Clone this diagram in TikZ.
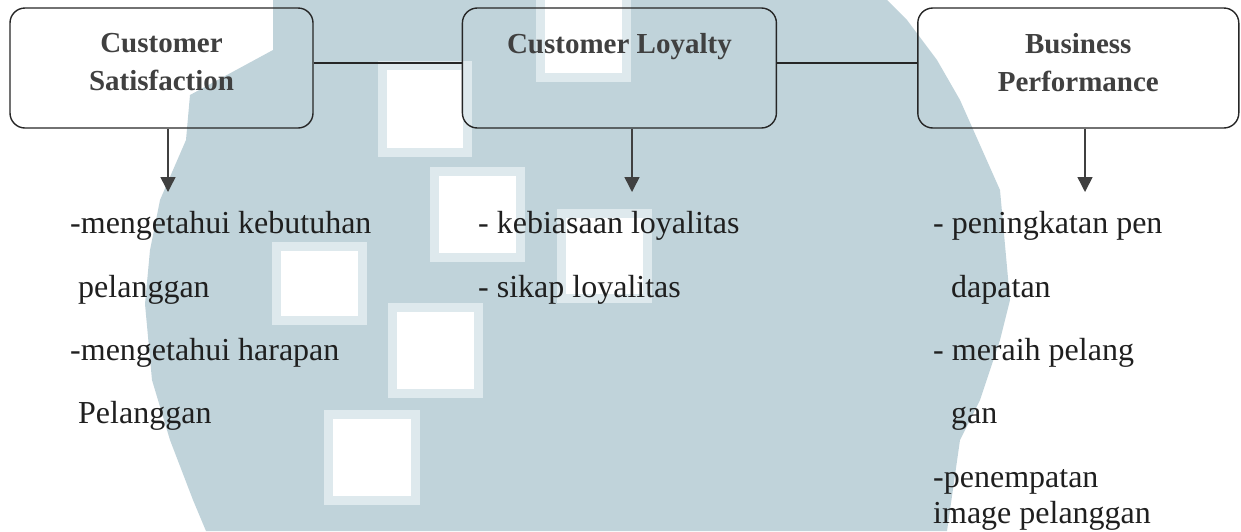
\documentclass[tikz,border=0pt]{standalone}
\usepackage{fontspec}
\setmainfont{Liberation Serif}
\usetikzlibrary{arrows.meta, positioning}
\definecolor{wmblue}{RGB}{192,211,218}
\definecolor{wmedge}{RGB}{222,233,237}
\tikzset{
  box/.style={draw=black!85, line width=1.4pt, rounded corners=15pt, minimum width=#1, minimum height=120pt, inner sep=0pt},
  title/.style={font=\bfseries\fontsize{29}{38}\selectfont, text=black!75, align=center, inner sep=0pt},
  item/.style={font=\fontsize{32}{38}\selectfont, text=black!88, anchor=base west, inner sep=0pt},
  arr/.style={-{Triangle[length=15pt, width=15pt]}, line width=1.5pt, draw=black!75},
  link/.style={draw=black!85, line width=1.4pt},
}

\begin{document}
\begin{tikzpicture}[x=1pt, y=-1pt]
    \useasboundingbox (0,0) rectangle (1241,531);
    % watermark
    \begin{scope}
      \clip (0,0) rectangle (1241,531);
      \fill[wmblue] (273,0) -- (887,0) -- (907,20) -- (937,60) -- (960,100) -- (1000,190) -- (1010,300)
        -- (1000,340) -- (980,400) -- (960,440) -- (947,531) -- (206,531) -- (193,500) -- (170,440)
        -- (152,380) -- (145,304) -- (150,250) -- (160,200) -- (186,140) -- (190,95) -- (273,50) -- cycle;
      \foreach \xa/\ya/\xb/\yb in {536/-10/631/82, 378/61/472/157, 430/167/525/262, 272/242/367/325,
          557/209/652/303, 388/303/483/398, 324/410/420/505} {
        \fill[wmedge] (\xa,\ya) rectangle (\xb,\yb);
        \fill[white] (\xa+9,\ya+9) rectangle (\xb-9,\yb-9);
      }
    \end{scope}
    % boxes
    \node[box=303pt] (cs) at (161.5,68) {};
    \node[box=314pt, right=148pt of cs] (cl) {};
    \node[box=321pt, right=140pt of cl] (bp) {};
    \node[title, below=26pt of cs.north] (cst) {Customer\\Satisfaction};
    \node[title, below=26pt of cl.north] (clt) {Customer Loyalty};
    \node[title, below=26pt of bp.north] (bpt) {Business\\Performance};
    \draw[link] ([yshift=5pt]cs.east) -- ([yshift=5pt]cl.west);
    \draw[link] ([yshift=5pt]cl.east) -- ([yshift=5pt]bp.west);
    % arrows
    \coordinate (csend) at (168,192);
    \coordinate (clend) at (632,192);
    \coordinate (bpend) at (1085,192);
    \foreach \b in {cs,cl,bp} \draw[arr] (\b.south -| \b end) -- (\b end);
    % items
    \node[item] (cs1) at (70,233) {-mengetahui kebutuhan};
    \node[item] (cs2) at (78,297) {pelanggan};
    \node[item] (cs3) at (70,360) {-mengetahui harapan};
    \node[item] (cs4) at (78,423) {Pelanggan};
    \node[item] (cl1) at (478,233) {- kebiasaan loyalitas};
    \node[item] (cl2) at (478,297) {- sikap loyalitas};
    \node[item] (bp1) at (933,233) {- peningkatan pen};
    \node[item] (bp2) at (951,297) {dapatan};
    \node[item] (bp3) at (933,360) {- meraih pelang};
    \node[item] (bp4) at (951,423) {gan};
    \node[item] (bp5) at (933,487) {-penempatan};
    \node[item] (bp6) at (933,523) {image pelanggan};
\end{tikzpicture}
\end{document}
